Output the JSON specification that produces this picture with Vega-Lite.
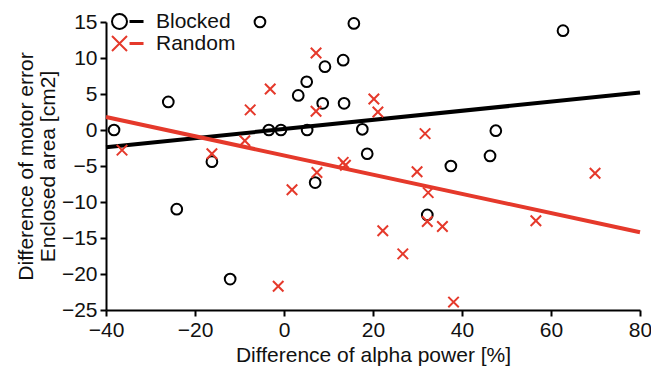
{
  "$schema": "https://vega.github.io/schema/vega-lite/v6.json",
  "width": 534,
  "height": 288,
  "autosize": {"type": "none"},
  "padding": {"left": 106, "top": 22, "right": 11, "bottom": 58},
  "background": "white",
  "config": {
    "view": {"stroke": null},
    "font": "Liberation Sans",
    "axis": {
      "grid": false,
      "domainColor": "#000",
      "domainWidth": 2,
      "tickColor": "#000",
      "tickWidth": 2,
      "tickSize": 6,
      "labelFlush": false,
      "labelFont": "Liberation Sans",
      "labelFontSize": 21,
      "labelColor": "#111",
      "titleFont": "Liberation Sans",
      "titleFontSize": 21,
      "titleFontWeight": "normal",
      "titleColor": "#111"
    }
  },
  "datasets": {
    "pts": [
      {"g": "Blocked", "x": -38.2, "y": 0.0},
      {"g": "Blocked", "x": -26.0, "y": 3.9},
      {"g": "Blocked", "x": -24.1, "y": -11.0},
      {"g": "Blocked", "x": -16.2, "y": -4.4},
      {"g": "Blocked", "x": -12.1, "y": -20.7},
      {"g": "Blocked", "x": -5.4, "y": 15.0},
      {"g": "Blocked", "x": -3.4, "y": 0.0},
      {"g": "Blocked", "x": -0.7, "y": 0.0},
      {"g": "Blocked", "x": 3.2, "y": 4.8},
      {"g": "Blocked", "x": 5.1, "y": 6.7},
      {"g": "Blocked", "x": 5.2, "y": 0.0},
      {"g": "Blocked", "x": 7.0, "y": -7.3},
      {"g": "Blocked", "x": 8.7, "y": 3.7},
      {"g": "Blocked", "x": 9.2, "y": 8.8},
      {"g": "Blocked", "x": 13.3, "y": 9.7},
      {"g": "Blocked", "x": 13.5, "y": 3.7},
      {"g": "Blocked", "x": 15.7, "y": 14.8},
      {"g": "Blocked", "x": 17.6, "y": 0.1},
      {"g": "Blocked", "x": 18.7, "y": -3.3},
      {"g": "Blocked", "x": 32.2, "y": -11.8},
      {"g": "Blocked", "x": 37.5, "y": -5.0},
      {"g": "Blocked", "x": 46.3, "y": -3.6},
      {"g": "Blocked", "x": 47.6, "y": -0.1},
      {"g": "Blocked", "x": 62.7, "y": 13.8},
      {"g": "Random", "x": -36.4, "y": -2.8},
      {"g": "Random", "x": -16.2, "y": -3.3},
      {"g": "Random", "x": -8.8, "y": -1.5},
      {"g": "Random", "x": -7.6, "y": 2.8},
      {"g": "Random", "x": -3.1, "y": 5.7},
      {"g": "Random", "x": -1.3, "y": -21.7},
      {"g": "Random", "x": 1.8, "y": -8.3},
      {"g": "Random", "x": 7.2, "y": 10.7},
      {"g": "Random", "x": 7.2, "y": 2.6},
      {"g": "Random", "x": 7.4, "y": -5.9},
      {"g": "Random", "x": 13.3, "y": -4.5},
      {"g": "Random", "x": 13.8, "y": -4.9},
      {"g": "Random", "x": 20.2, "y": 4.3},
      {"g": "Random", "x": 21.1, "y": 2.5},
      {"g": "Random", "x": 22.2, "y": -14.0},
      {"g": "Random", "x": 26.7, "y": -17.2},
      {"g": "Random", "x": 29.9, "y": -5.8},
      {"g": "Random", "x": 31.7, "y": -0.5},
      {"g": "Random", "x": 32.2, "y": -12.7},
      {"g": "Random", "x": 32.4, "y": -8.7},
      {"g": "Random", "x": 35.6, "y": -13.4},
      {"g": "Random", "x": 38.1, "y": -23.9},
      {"g": "Random", "x": 56.6, "y": -12.6},
      {"g": "Random", "x": 69.9, "y": -6.0}
    ],
    "fits": [
      {"g": "Blocked", "x": -40, "y": -2.4},
      {"g": "Blocked", "x": 80, "y": 5.2},
      {"g": "Random", "x": -40, "y": 1.8},
      {"g": "Random", "x": 80, "y": -14.2}
    ]
  },
  "encoding": {
    "x": {
      "field": "x",
      "type": "quantitative",
      "scale": {"domain": [-40, 80], "nice": false, "zero": false},
      "axis": {
        "values": [-40, -20, 0, 20, 40, 60, 80],
        "title": "Difference of alpha power [%]",
        "labelPadding": 3,
        "titlePadding": 4
      }
    },
    "y": {
      "field": "y",
      "type": "quantitative",
      "scale": {"domain": [-25, 15], "nice": false, "zero": false},
      "axis": {
        "values": [-25, -20, -15, -10, -5, 0, 5, 10, 15],
        "title": ["Difference of motor error", "Enclosed area [cm2]"],
        "titleLineHeight": 22,
        "labelPadding": 3,
        "titlePadding": 3
      }
    }
  },
  "layer": [
    {
      "data": {"name": "fits"},
      "mark": {"type": "line", "strokeWidth": 4},
      "encoding": {
        "color": {
          "field": "g",
          "type": "nominal",
          "scale": {"domain": ["Blocked", "Random"], "range": ["#000000", "#e5392b"]},
          "legend": {
            "orient": "none",
            "legendX": 3,
            "legendY": -11,
            "title": null,
            "padding": 0,
            "labelFont": "Liberation Sans",
            "labelFontSize": 21,
            "labelColor": "#111",
            "labelOffset": 26,
            "rowPadding": -1,
            "symbolSize": 225,
            "symbolStrokeWidth": 2,
            "encode": {
              "symbols": {
                "update": {
                  "shape": {"signal": "datum.value === 'Blocked' ? 'M-1,0A1,1,0,1,1,1,0A1,1,0,1,1,-1,0Z M1.47,-0.07L3.07,-0.07L3.07,0.07L1.47,0.07Z' : 'M-1,-1L1,1M-1,1L1,-1M1.47,-0.07L3.07,-0.07L3.07,0.07L1.47,0.07Z'"},
                  "fill": {"value": "transparent"},
                  "strokeWidth": {"value": 2},
                  "size": {"value": 225}
                }
              }
            }
          }
        }
      }
    },
    {
      "data": {"name": "pts"},
      "transform": [{"filter": "datum.g === 'Blocked'"}],
      "mark": {"type": "point", "shape": "circle", "filled": false, "strokeWidth": 2, "opacity": 1, "size": 115},
      "encoding": {
        "color": {"field": "g", "type": "nominal"}
      }
    },
    {
      "data": {"name": "pts"},
      "transform": [{"filter": "datum.g === 'Random'"}],
      "mark": {"type": "point", "shape": "M-1,-1L1,1M-1,1L1,-1", "filled": false, "strokeWidth": 2, "opacity": 1, "size": 110},
      "encoding": {
        "color": {"field": "g", "type": "nominal"}
      }
    },
    {
      "mark": {"type": "text", "align": "right", "baseline": "alphabetic", "fontSize": 21, "font": "Liberation Sans", "color": "#111", "dx": 5},
      "encoding": {
        "x": {"datum": 80},
        "y": {"datum": 6.25},
        "text": {"value": "ρ = 0.04, p = 0.71"}
      }
    },
    {
      "mark": {"type": "text", "align": "right", "baseline": "alphabetic", "fontSize": 21, "font": "Liberation Sans", "color": "#e5392b", "dx": 9},
      "encoding": {
        "x": {"datum": 80},
        "y": {"datum": -17.2},
        "text": {"value": "ρ = -0.50, p = 0.036"}
      }
    }
  ]
}
